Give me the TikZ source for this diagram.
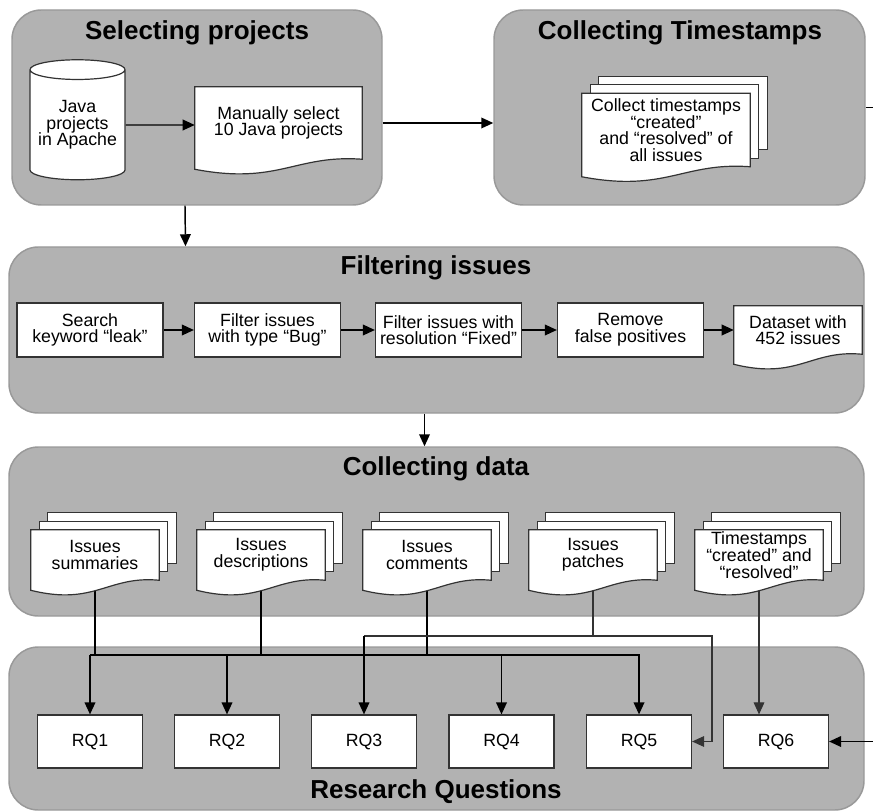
\documentclass[tikz,border=0pt]{standalone}
\usepackage{fontspec}
\setmainfont{Liberation Sans}
\usetikzlibrary{arrows.meta, shapes.geometric, calc}
\definecolor{panelgray}{gray}{0.7}
\definecolor{panelline}{gray}{0.6}
\definecolor{boxline}{gray}{0.2}
\pgfdeclarelayer{panels}
\pgfdeclarelayer{wires}
\pgfdeclarelayer{paper}
\pgfsetlayers{panels,wires,paper,main}

\tikzset{
  panel/.style={draw=panelline, line width=1.1pt, fill=panelgray, rounded corners=22pt},
  paneltitle/.style={font=\fontsize{19.5}{22}\selectfont\bfseries},
  bodyfont/.style={font=\fontsize{13.3}{12.5}\selectfont},
  stepbox/.style={bodyfont, draw=boxline, line width=0.9pt, fill=white, align=center,
    inner sep=0pt, minimum width=109.5pt, minimum height=40.5pt},
  rqbox/.style={stepbox, minimum width=78.75pt, minimum height=39.75pt},
  doctext/.style={bodyfont, inner sep=0pt, align=center, minimum width=96pt, minimum height=37.5pt},
  wire/.style={line width=1.1pt},
  thinwire/.style={line width=0.8pt, draw=boxline},
  arr/.style={wire, -{Triangle[length=9pt, width=8pt]}},
  thinarr/.style={thinwire, -{Triangle[length=9pt, width=8pt]}},
}

% page with a wavy lower edge, drawn behind the named text node
\newcommand{\docpage}[1]{%
  \draw[boxline, line width=0.9pt, fill=white] (#1.north west) -- (#1.north east) -- (#1.south east)
    .. controls ($(#1.south)!0.2!(#1.south east)+(0,-5)$) and ($(#1.south)+(0,26)$) .. ($(#1.south west)+(0,10)$)
    -- cycle;}
% three pages stacked
\newcommand{\docstack}[1]{%
  \foreach \o in {17,8.5} {
    \draw[boxline, line width=0.9pt, fill=white] ($(#1.north west)+(\o,-\o)$) rectangle ($(#1.south east)+(\o,-\o)$);
  }
  \docpage{#1}}

\begin{document}
\begin{tikzpicture}[x=0.75pt, y=-0.75pt]

  \useasboundingbox (0,0) rectangle (873,812);

  % panels
  \begin{pgfonlayer}{panels}
    \node[panel, minimum width=277.5pt, minimum height=146.25pt] (selpanel) at (197,107.5) {};
    \node[panel, minimum width=278.25pt, minimum height=146.25pt] (tspanel) at (679.5,107.5) {};
    \node[panel, minimum width=641.25pt, minimum height=124.5pt] (filtpanel) at (436.5,330) {};
    \node[panel, minimum width=641.25pt, minimum height=126.75pt] (datapanel) at (436.5,531.5) {};
    \node[panel, minimum width=641.25pt, minimum height=122.25pt] (rqpanel) at (436.5,728.5) {};
  \end{pgfonlayer}

  \node[paneltitle] (seltitle) at (197,33) {Selecting projects};
  \node[paneltitle] (tstitle) at (680,33) {Collecting Timestamps};
  \node[paneltitle] (filttitle) at (436,268) {Filtering issues};
  \node[paneltitle] (datatitle) at (436,469) {Collecting data};
  \node[paneltitle] (rqtitle) at (436,792) {Research Questions};

  % selecting projects
  \node[cylinder, shape border rotate=90, aspect=0.25, draw=boxline, line width=0.9pt, fill=white,
    minimum width=71.25pt, minimum height=90pt, inner sep=0pt, align=center, bodyfont] (apache) at (77.5,125)
    {Java\\projects\\in Apache};
  \node[doctext, minimum width=125.25pt, minimum height=54pt] (manual) at (278.5,123)
    {Manually select\\10 Java projects};

  % collecting timestamps
  \node[doctext, minimum width=126pt, minimum height=54.75pt] (collts) at (666,130)
    {Collect timestamps\\“created”\\and “resolved” of\\all issues};

  % filtering issues
  \node[stepbox] (search) at (90,330) {Search\\keyword “leak”};
  \node[stepbox] (bugtype) at (267.5,330) {Filter issues\\with type “Bug”};
  \node[stepbox] (fixed) at (448.5,330) {Filter issues with\\resolution “Fixed”};
  \node[stepbox] (falsepos) at (630.5,330) {Remove\\false positives};
  \node[doctext, minimum height=36pt] (dataset) at (798,330) {Dataset with\\452 issues};

  % collecting data
  \foreach \n/\x/\t in {dsum/95/{Issues\\summaries}, ddesc/261/{Issues\\descriptions},
      dcom/427/{Issues\\comments}, dpat/593/{Issues\\patches},
      dts/759/{Timestamps\\“created” and\\“resolved”}} {
    \node[doctext] (\n) at (\x,555) {\t};
  }

  % research questions
  \foreach \i/\x in {1/90, 2/227, 3/364, 4/501.5, 5/639, 6/776} {
    \node[rqbox] (rq\i) at (\x,741.5) {RQ\i};
  }

  \begin{pgfonlayer}{paper}
    \docpage{manual}
    \docstack{collts}
    \docpage{dataset}
    \foreach \n in {dsum,ddesc,dcom,dpat,dts} {
      \docstack{\n}
    }
  \end{pgfonlayer}

  \coordinate (bus) at (0,655);
  \coordinate (pbus) at (712,636);

  \begin{pgfonlayer}{wires}
    \draw[arr] (apache) -- (apache -| manual.west);
    \draw[arr] (selpanel.east |- manual) -- (tspanel.west |- manual);
    \draw[arr] ($(selpanel.south)+(-12,0)$) -- ($(filtpanel.north)+(-251,0)$);
    \draw[arr] (search) -- (bugtype);
    \draw[arr] (bugtype) -- (fixed);
    \draw[arr] (fixed) -- (falsepos);
    \draw[arr] (falsepos) -- (falsepos -| dataset.west);
    \draw[arr] ($(filtpanel.south)+(-12,0)$) -- ($(datapanel.north)+(-12,0)$);

    \foreach \d in {dsum,ddesc,dcom} {
      \draw[wire] (\d.south) -- (\d.south |- bus);
    }
    \draw[arr] (rq1.north |- bus) -- (rq5.north |- bus) -- (rq5.north);
    \foreach \r in {rq1,rq2,rq4} {
      \draw[arr] (\r.north |- bus) -- (\r.north);
    }
    \draw[thinwire] (dpat.south) -- (dpat.south |- pbus);
    \draw[thinarr] (rq3.north |- pbus) -- (pbus) |- (rq5.east);
    \draw[arr] (rq3.north |- pbus) -- (rq3.north);
    \draw[thinarr] (dts.south) -- (dts.south |- rq6.north);
    \draw[arr] (tspanel.east) -- ++(30,0) |- (rq6.east);
  \end{pgfonlayer}

\end{tikzpicture}
\end{document}
